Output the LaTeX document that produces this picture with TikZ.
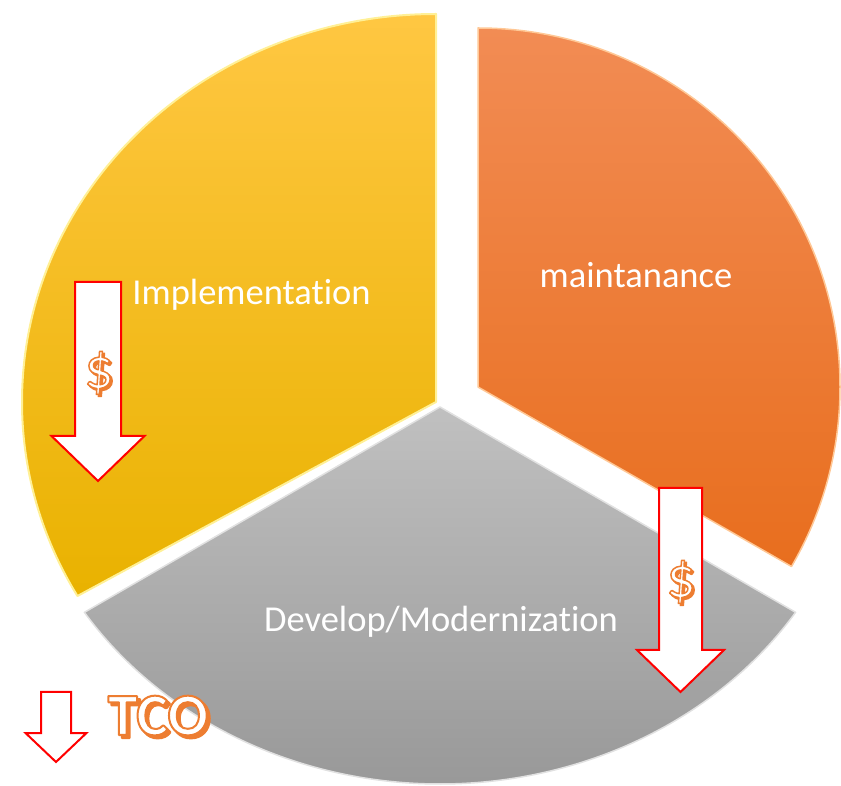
\documentclass[tikz,border=0pt]{standalone}
\usepackage{fontspec}
\setmainfont{Carlito}[Ligatures={NoCommon}]
\definecolor{ytop}{RGB}{255,199,66}
\definecolor{ymid}{RGB}{255,194,0}
\definecolor{ybot}{RGB}{233,178,0}
\definecolor{ylight}{RGB}{255,240,150}
\definecolor{otop}{RGB}{242,140,84}
\definecolor{omid}{RGB}{244,125,44}
\definecolor{obot}{RGB}{232,110,30}
\definecolor{olight}{RGB}{255,200,150}
\definecolor{gtop}{RGB}{192,192,192}
\definecolor{gmid}{RGB}{166,166,166}
\definecolor{gbot}{RGB}{152,152,152}
\definecolor{glight}{RGB}{225,225,225}
\definecolor{tcoorange}{RGB}{237,125,49}
\definecolor{arrowred}{RGB}{255,0,0}
\tikzset{
  slicelabel/.style={text=white, anchor=base, font=\fontsize{36.5}{40}\selectfont, inner sep=0pt},
  dnarrowstyle/.style={draw=arrowred, line width=2pt, fill=white, line join=miter},
}
\newcommand\dnarrow[6]{% cx, top, shaft half, head base, head half, tip
  \draw[dnarrowstyle] ({#1-#3},#2) -- ({#1+#3},#2) -- ({#1+#3},#4) -- ({#1+#5},#4)
    -- (#1,#6) -- ({#1-#5},#4) -- ({#1-#3},#4) -- cycle;}
\newcommand\strokedtext[2]{\special{pdf:code q 0.929 0.490 0.192 RG #1 w 1 j 2 Tr}#2\special{pdf:code Q}}
\newcommand\fancytext[6]{% name, position, font, text, shadow offset, stroke width
  \node[text=white, anchor=base, inner sep=0pt] (#1) at (#2)
    {#3\rlap{\kern#5pt\lower#5pt\hbox{\color{tcoorange}\strokedtext{#6}{#4}}}\strokedtext{#6}{#4}};}
\begin{document}
\begin{tikzpicture}[x=1pt,y=1pt]
\useasboundingbox (0,0) rectangle (841,785);
% Implementation slice (yellow)
\def\yellowpath{(436,383) -- (436,771) arc[start angle=90, end angle=210, x radius=414, y radius=388] -- cycle}
\shade[top color=ytop, middle color=ymid, bottom color=ybot] \yellowpath;
\draw[ylight, line width=2pt, line join=round] \yellowpath;
% maintanance slice (orange)
\def\orangepath{(478,398) -- (478,757) arc[start angle=90, end angle=-30, x radius=362, y radius=359] -- cycle}
\shade[top color=otop, middle color=omid, bottom color=obot] \orangepath;
\draw[olight, line width=1.5pt, line join=round] \orangepath;
% Develop/Modernization slice (gray)
\def\graypath{(440,378) -- ({440+424*cos(213)},{378+377*sin(213)}) arc[start angle=213, end angle=327, x radius=424, y radius=377] -- cycle}
\shade[top color=gtop, middle color=gmid, bottom color=gbot] \graypath;
\draw[glight, line width=1.5pt, line join=round] \graypath;
% labels
\node[slicelabel] (impl) at (251.5,480) {Implementation};
\node[slicelabel] (maint) at (636,497) {maintanance};
\node[slicelabel] (dev) at (441,153) {Develop/Modernization};
% arrows
\dnarrow{98}{503}{23}{349}{46.5}{304}
\dnarrow{680.5}{297}{21.5}{135}{43.5}{93}
\dnarrow{56}{93}{15}{52}{30.5}{23}
% dollar signs and TCO
\fancytext{dollarA}{99,397}{\fontsize{58}{58}\selectfont}{\$}{2}{1.5}
\fancytext{dollarB}{681,188}{\fontsize{58}{58}\selectfont}{\$}{2}{1.5}
\fancytext{tco}{158,50}{\fontsize{60}{60}\selectfont\bfseries}{TCO}{3}{2}
\end{tikzpicture}
\end{document}
